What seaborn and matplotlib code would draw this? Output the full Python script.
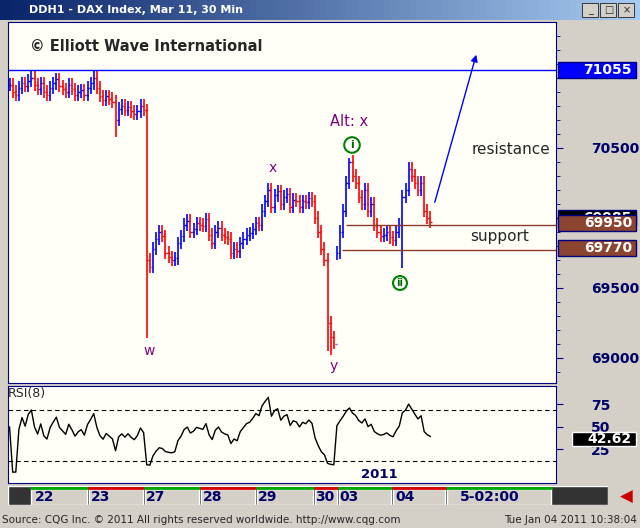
import numpy as np
import pandas as pd
import matplotlib
matplotlib.use("Agg")
import matplotlib.pyplot as plt
import seaborn as sns
from matplotlib.patches import Rectangle

closes = [70950,70900,70880,70930,70960,70940,70980,71000,70950,70920,70960,70900,70880,70930,
          70960,70990,70940,70920,70900,70950,70920,70880,70900,70910,70880,70930,70960,71000,
          70930,70870,70840,70870,70850,70830,70700,70780,70800,70770,70790,70760,70740,70760,70800,70770,
          69700,69650,69780,69850,69900,69870,69750,69720,69700,69710,
          69820,69870,69950,69980,69900,69920,69960,69950,69940,
          69990,69880,69820,69900,69930,69880,69860,69850,69750,69780,69760,
          69820,69850,69880,69890,69920,69960,69950,
          70050,70120,70200,70080,70160,
          70190,70100,70150,70170,70080,70130,70120,70080,70120,70110,70140,70120,
          70000,69900,69780,69700,69250,69150,69100,
          69750,69900,70050,70250,
          70400,70300,70250,
          70150,70100,70200,70050,70100,69950,69900,69870,69880,69900,69860,69840,
          69900,69950,70150,70200,70350,70300,70250,70200,
          70250,70050,70000,69970]
special_lows = {34: 70580, 44: 69140, 102: 69050, 103: 69020, 104: 69060, 105: 69700, 126: 69640}
special_highs = {44: 70810, 109: 70430}
price_ticks = [69000, 69500, 70000, 70500, 71000]
resist_level = 71055
support_hi = 69950
support_lo = 69770
last_price = 69985
rsi_last = "42.62"
rsi_ticks = [25, 50, 75]
day_labels = ["22", "23", "27", "28", "29", "30", "03", "04"]
day_px = [45, 101, 156, 213, 268, 325, 349, 405]

sns.set_style("white")
plt.rcParams['font.family'] = ['DejaVu Sans']

N = len(closes)
opens = [closes[0]] + closes[:-1]
highs = [special_highs.get(i, max(o, c) + 45) for i, (o, c) in enumerate(zip(opens, closes))]
lows = [special_lows.get(i, min(o, c) - 45) for i, (o, c) in enumerate(zip(opens, closes))]
df = pd.DataFrame(dict(i=range(N), o=opens, h=highs, l=lows, c=closes))
df["col"] = np.where(df.c >= df.o, "#0000ff", "#ff0000")

# RSI(8)
d = df.c.diff().fillna(0)
up = d.clip(lower=0).ewm(alpha=1/8, adjust=True).mean()
dn = (-d.clip(upper=0)).ewm(alpha=1/8, adjust=True).mean()
df["rsi"] = (100 * up / (up + dn).replace(0, np.nan)).fillna(50)

W, H = 640, 528
fig = plt.figure(figsize=(6.4, 5.28), dpi=100, facecolor="#d4d0c8")

def fx(px): return px / W
def fy(py): return 1 - py / H

# title bar
tb = fig.add_axes([0, fy(20), 1, 20 / H]); tb.set_axis_off()
tb.imshow(np.linspace(0, 1, 100).reshape(1, -1), cmap=matplotlib.colors.LinearSegmentedColormap.from_list("t", ["#0a246a", "#a6caf0"]), aspect="auto", extent=[0, 1, 0, 1])
tb.text(0.045, 0.5, "DDH1 - DAX Index, Mar 11, 30 Min", color="white", fontsize=8, fontweight="bold", va="center")
for k, s in enumerate(["_", "□", "×"]):
    tb.add_patch(Rectangle((0.91 + k * 0.028, 0.15), 0.025, 0.7, fc="#d4d0c8", ec="black", lw=0.5))
    tb.text(0.9225 + k * 0.028, 0.5, s, fontsize=7, ha="center", va="center")

step = (432 - 8) / N
xmin = -0.5
xmax = xmin + (556 - 8) / step
ymin = 71055 - (383 - 70) * 7.14
ymax = 71055 + (70 - 22) * 7.14

ax = fig.add_axes([fx(8), fy(383), fx(556 - 8), (383 - 22) / H])
ax.set_facecolor("#fffff8")
ax.set_xlim(xmin, xmax); ax.set_ylim(ymin, ymax)
ax.vlines(df.i, df.l, df.h, colors=df.col, lw=1.2)
ax.hlines(df.c, df.i, df.i + 0.45, colors=df.col, lw=1)
ax.hlines(df.o, df.i - 0.45, df.i, colors=df.col, lw=1)
ax.axhline(resist_level, color="#0000ff", lw=1)
x0 = 106.5
ax.hlines([support_hi, support_lo], [x0 + 1.5, x0], xmax, colors="#8b3a2a", lw=1)
ax.yaxis.tick_right()
ax.set_yticks(price_ticks)
ax.set_yticklabels([str(p) if p not in (71000, 70000) else "" for p in price_ticks], color="#000066", fontweight="bold", fontsize=10)
ax.set_yticks(np.arange(68900, 71400, 100), minor=True)
ax.tick_params(axis="y", which="major", length=5, color="#000080", pad=20, direction="out")
ax.tick_params(axis="y", which="minor", length=3, color="#000080", direction="out")
ax.set_xticks([])
for s in ax.spines.values(): s.set_color("#000080")
ax.text(0.04, 0.92, "© Elliott Wave International", transform=ax.transAxes, fontsize=10.5, fontweight="bold")

def lbl(px, py, s, **kw):
    fig.text(fx(px), fy(py), s, ha="center", va="center", **kw)

lbl(149, 351, "w", color="#800080", fontsize=10)
lbl(273, 168, "x", color="#800080", fontsize=10)
lbl(334, 366, "y", color="#800080", fontsize=10)
lbl(349, 122, "Alt: x", color="#800080", fontsize=10.5)
lbl(352, 145, "i", color="#006600", fontsize=8, fontweight="bold",
    bbox=dict(boxstyle="circle,pad=0.25", fc="white", ec="#008000", lw=1.5))
lbl(400, 283, "ii", color="#006600", fontsize=7, fontweight="bold",
    bbox=dict(boxstyle="circle,pad=0.2", fc="white", ec="#008000", lw=1.5))
lbl(511, 149, "resistance", fontsize=11)
lbl(500, 237, "support", fontsize=11)
fig.add_artist(matplotlib.patches.FancyArrowPatch((fx(434), fy(205)), (fx(477), fy(52)), transform=fig.transFigure,
               arrowstyle="-|>", mutation_scale=10, color="#0000ff", lw=1))

zc = [5]
def box(py, s, fc, tc="white"):
    zc[0] += 1
    fig.add_artist(Rectangle((fx(558), fy(py + 8)), fx(78), 16 / H, transform=fig.transFigure, fc=fc, ec="#000080", lw=1, zorder=zc[0]))
    zc[0] += 1
    fig.text(fx(632), fy(py), s, ha="right", va="center", color=tc, fontsize=10, fontweight="bold", zorder=zc[0])

box(70, str(resist_level), "#0000ff")
box(218, str(last_price), "black")
box(223, str(support_hi), "#8b4530")
box(248, str(support_lo), "#8b4530")

# RSI panel
ra = fig.add_axes([fx(8), fy(483), fx(556 - 8), (483 - 386) / H])
ra.set_facecolor("#fffff8")
sns.lineplot(data=df, x="i", y="rsi", ax=ra, color="black", lw=1)
ra.set_xlim(xmin, xmax); ra.set_ylim(-12, 95)
ra.axhline(68, color="black", ls=(0, (4, 3)), lw=0.8)
ra.axhline(12, color="black", ls=(0, (4, 3)), lw=0.8)
ra.yaxis.tick_right(); ra.set_yticks(rsi_ticks)
ra.set_yticklabels([str(t) for t in rsi_ticks], color="#000066", fontweight="bold", fontsize=10)
ra.tick_params(axis="y", length=5, color="#000080", pad=20)
ra.set_xticks([]); ra.set_xlabel(""); ra.set_ylabel("")
for s in ra.spines.values(): s.set_color("#000080")
ra.text(0.0, 0.92, "RSI(8)", transform=ra.transAxes, fontsize=9, va="center")
ra.text(0.645, 0.05, "2011", transform=ra.transAxes, fontsize=9.5, fontweight="bold", color="#000066")
fig.add_artist(Rectangle((fx(572), fy(446)), fx(64), 14 / H, transform=fig.transFigure, fc="black", zorder=20))
fig.text(fx(632), fy(439), rsi_last, ha="right", va="center", color="white", fontsize=10, fontweight="bold", zorder=21)

# date strip
ds = fig.add_axes([fx(8), fy(505), fx(600), 19 / H]); ds.set_axis_off()
ds.set_xlim(8, 608); ds.set_ylim(0, 1)
ds.add_patch(Rectangle((8, 0), 600, 1, fc="#333333"))
edges = [30, 88, 144, 200, 256, 314, 338, 392, 446, 552]
for k in range(len(edges) - 1):
    ds.add_patch(Rectangle((edges[k] + 1, 0), edges[k + 1] - edges[k] - 2, 0.85, fc="#d4d0c8"))
    ds.plot([edges[k] + 1, edges[k + 1] - 1], [0.92, 0.92], color="#00aa00" if k % 2 == 0 else "#dd0000", lw=2)
for s, px in zip(day_labels, day_px):
    ds.text(px, 0.4, s, ha="center", va="center", fontsize=10, fontweight="bold", color="#000066")
ds.text(490, 0.4, "5-02:00", ha="center", va="center", fontsize=10, fontweight="bold", color="#000066")
ds.text(626, 0.45, "◀", ha="center", va="center", fontsize=12, color="#cc0000")

fig.text(fx(2), fy(520), "Source: CQG Inc. © 2011 All rights reserved worldwide. http://www.cqg.com", fontsize=7.5, va="center")
fig.text(fx(637), fy(520), "Tue Jan 04 2011 10:38:04", fontsize=7.5, va="center", ha="right")

fig.savefig("out.png", dpi=100, facecolor=fig.get_facecolor())
